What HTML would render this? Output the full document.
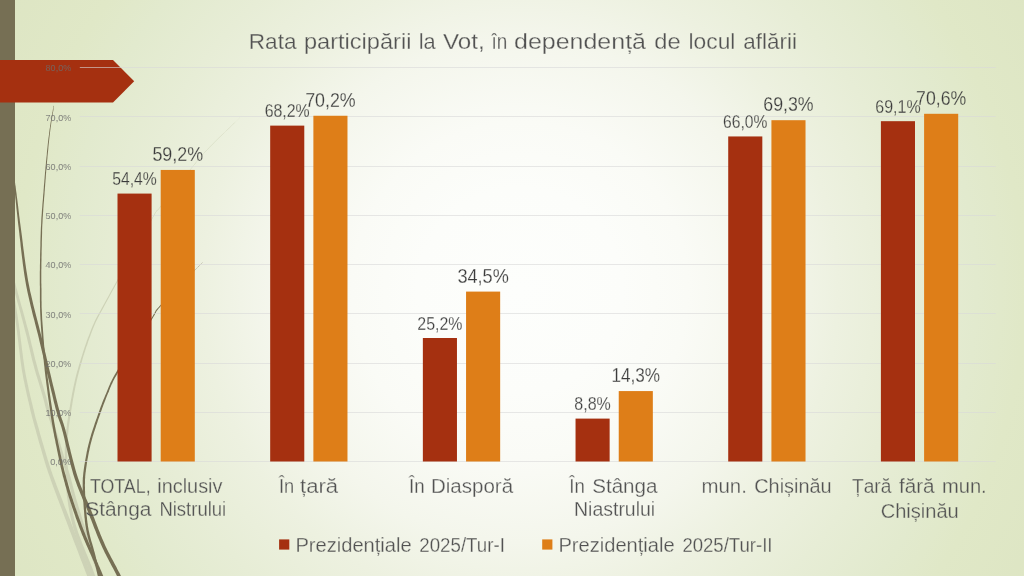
<!DOCTYPE html>
<html><head><meta charset="utf-8"><title>Rata participarii la Vot</title>
<style>
html,body{margin:0;padding:0;width:1024px;height:576px;overflow:hidden;background:#E3EACF;}
svg{display:block;position:absolute;left:0;top:0}
text{font-family:"Liberation Sans",sans-serif;}
</style></head><body>
<svg width="1024" height="576" viewBox="0 0 1024 576">
<defs>
<radialGradient id="bg" gradientUnits="userSpaceOnUse" cx="520" cy="290" r="600">
<stop offset="0" stop-color="#FDFEFC"/>
<stop offset="0.17" stop-color="#FCFDFA"/>
<stop offset="0.28" stop-color="#FAFBF6"/>
<stop offset="0.42" stop-color="#F4F6EC"/>
<stop offset="0.53" stop-color="#EDF1E0"/>
<stop offset="0.65" stop-color="#E7EDD6"/>
<stop offset="0.76" stop-color="#E2EACE"/>
<stop offset="0.84" stop-color="#E0E8C7"/>
<stop offset="1" stop-color="#DDE5C3"/>
</radialGradient>
</defs>
<rect width="1024" height="576" fill="url(#bg)"/>

<g>
<path d="M10.2,285.2 L10.5,286.9 L10.7,288.6 L11.0,290.4 L11.3,292.2 L11.5,293.9 L11.8,295.7 L12.1,297.5 L12.3,299.3 L12.6,301.0 L12.9,302.7 L13.1,304.4 L13.4,306.1 L13.6,307.7 L13.8,309.3 L14.1,310.8 L14.3,312.2 L14.5,313.5 L14.6,314.7 L14.8,315.8 L14.9,316.8 L15.1,317.7 L15.2,318.6 L15.3,319.4 L15.5,320.3 L15.6,321.2 L15.7,322.1 L15.9,323.1 L16.0,324.2 L16.2,325.5 L16.4,326.9 L16.6,328.4 L16.8,330.2 L17.1,332.1 L17.3,334.3 L17.6,336.6 L17.9,339.0 L18.2,341.6 L18.5,344.2 L18.8,347.0 L19.2,349.8 L19.5,352.6 L19.9,355.5 L20.2,358.3 L20.6,361.2 L21.0,364.0 L21.4,366.7 L21.8,369.4 L22.2,372.0 L22.7,374.5 L23.1,377.1 L23.6,379.7 L24.2,382.3 L24.7,384.9 L25.3,387.5 L25.8,390.1 L26.4,392.7 L26.9,395.2 L27.5,397.6 L28.0,400.0 L28.6,402.3 L29.1,404.5 L29.6,406.6 L30.0,408.5 L30.4,410.4 L30.8,412.1 L31.2,413.6 L31.6,415.0 L31.9,416.4 L32.2,417.6 L32.5,418.7 L32.8,419.8 L33.1,420.8 L33.3,421.7 L33.6,422.7 L33.8,423.6 L34.1,424.5 L34.4,425.4 L34.6,426.4 L34.9,427.4 L35.2,428.4 L35.5,429.5 L35.8,430.5 L36.0,431.5 L36.3,432.4 L36.5,433.4 L36.8,434.3 L37.0,435.2 L37.3,436.1 L37.6,437.1 L37.8,438.1 L38.1,439.1 L38.4,440.3 L38.8,441.4 L39.1,442.7 L39.5,444.0 L40.0,445.5 L40.4,447.0 L40.9,448.5 L41.3,450.1 L41.8,451.8 L42.3,453.4 L42.8,455.2 L43.3,457.0 L43.8,458.8 L44.4,460.7 L45.0,462.7 L45.6,464.8 L46.3,467.0 L47.1,469.2 L47.8,471.6 L48.7,474.0 L49.6,476.6 L50.5,479.3 L51.5,482.1 L52.6,485.1 L53.8,488.3 L55.0,491.5 L56.2,494.8 L57.5,498.2 L58.8,501.6 L60.1,505.1 L61.5,508.6 L62.8,512.0 L64.1,515.5 L65.4,518.9 L66.7,522.3 L67.9,525.5 L69.1,528.7 L70.3,531.9 L71.6,535.2 L72.8,538.5 L74.1,541.9 L75.4,545.2 L76.7,548.6 L78.0,552.0 L79.2,555.2 L80.4,558.4 L81.6,561.6 L82.8,564.5 L83.9,567.4 L84.9,570.0 L85.8,572.5 L86.7,574.7 L87.4,576.8 L88.1,578.5 L88.7,580.0 L89.1,581.2 L89.6,582.3 L89.9,583.2 L90.2,583.9 L90.4,584.5 L90.6,585.0 L90.8,585.4 L90.9,585.8 L91.1,586.2 L91.2,586.6 L91.4,587.0 L91.6,587.5 L91.8,588.1 L92.0,588.8 L96.0,587.2 L95.7,586.6 L95.5,586.0 L95.3,585.5 L95.1,585.1 L95.0,584.7 L94.8,584.3 L94.7,583.9 L94.5,583.5 L94.3,583.0 L94.1,582.4 L93.8,581.7 L93.5,580.8 L93.1,579.7 L92.6,578.5 L92.0,577.0 L91.4,575.2 L90.6,573.2 L89.7,571.0 L88.8,568.5 L87.7,565.9 L86.7,563.0 L85.5,560.1 L84.3,557.0 L83.1,553.8 L81.8,550.5 L80.5,547.1 L79.2,543.8 L77.9,540.4 L76.6,537.0 L75.3,533.7 L74.1,530.5 L72.9,527.3 L71.6,524.1 L70.4,520.8 L69.1,517.5 L67.7,514.1 L66.4,510.6 L65.0,507.2 L63.7,503.7 L62.4,500.3 L61.0,496.8 L59.7,493.5 L58.5,490.2 L57.2,487.0 L56.1,483.9 L55.0,480.9 L53.9,478.1 L52.9,475.4 L52.1,472.9 L51.2,470.5 L50.4,468.1 L49.7,465.9 L49.0,463.8 L48.4,461.7 L47.7,459.7 L47.2,457.8 L46.6,456.0 L46.1,454.2 L45.6,452.5 L45.1,450.8 L44.6,449.2 L44.1,447.6 L43.7,446.0 L43.2,444.5 L42.8,443.1 L42.4,441.7 L42.0,440.5 L41.7,439.3 L41.4,438.2 L41.1,437.2 L40.8,436.2 L40.5,435.2 L40.2,434.3 L40.0,433.4 L39.7,432.5 L39.5,431.6 L39.2,430.6 L39.0,429.6 L38.7,428.6 L38.4,427.6 L38.1,426.5 L37.8,425.5 L37.5,424.5 L37.3,423.6 L37.0,422.7 L36.7,421.8 L36.5,420.8 L36.2,419.9 L35.9,418.9 L35.6,417.9 L35.3,416.7 L35.0,415.6 L34.7,414.3 L34.3,412.8 L34.0,411.3 L33.6,409.6 L33.1,407.8 L32.7,405.8 L32.2,403.8 L31.6,401.6 L31.1,399.3 L30.5,396.9 L30.0,394.5 L29.4,392.0 L28.8,389.5 L28.3,386.9 L27.7,384.3 L27.2,381.7 L26.6,379.1 L26.1,376.5 L25.6,374.0 L25.2,371.4 L24.7,368.9 L24.3,366.3 L23.9,363.5 L23.5,360.8 L23.1,357.9 L22.8,355.1 L22.4,352.2 L22.0,349.4 L21.7,346.6 L21.4,343.9 L21.0,341.2 L20.7,338.7 L20.4,336.2 L20.1,333.9 L19.9,331.8 L19.6,329.8 L19.3,328.1 L19.1,326.5 L18.9,325.1 L18.8,323.9 L18.6,322.7 L18.4,321.7 L18.3,320.8 L18.2,319.9 L18.0,319.0 L17.9,318.2 L17.8,317.3 L17.6,316.4 L17.5,315.4 L17.3,314.3 L17.1,313.1 L16.9,311.8 L16.7,310.4 L16.5,308.9 L16.2,307.3 L16.0,305.7 L15.7,304.0 L15.5,302.3 L15.2,300.6 L15.0,298.9 L14.7,297.1 L14.4,295.3 L14.1,293.5 L13.9,291.8 L13.6,290.0 L13.3,288.2 L13.0,286.5 L12.8,284.8Z" fill="#CDD2B6"/>
<path d="M9.6,272.3 L9.9,273.4 L10.2,274.4 L10.4,275.4 L10.6,276.3 L10.9,277.2 L11.1,278.1 L11.3,279.0 L11.6,280.0 L11.8,280.9 L12.1,282.0 L12.3,283.1 L12.7,284.3 L13.0,285.6 L13.4,287.1 L13.8,288.6 L14.2,290.4 L14.8,292.3 L15.3,294.4 L15.9,296.6 L16.6,299.0 L17.2,301.4 L18.0,304.0 L18.7,306.6 L19.4,309.3 L20.2,312.1 L20.9,314.8 L21.6,317.5 L22.4,320.2 L23.1,322.9 L23.8,325.5 L24.4,328.0 L25.0,330.4 L25.6,332.7 L26.2,335.0 L26.8,337.3 L27.3,339.5 L27.8,341.7 L28.4,343.9 L28.9,346.1 L29.4,348.3 L29.9,350.5 L30.4,352.6 L30.9,354.7 L31.4,356.8 L31.9,358.9 L32.4,361.0 L33.0,363.1 L33.5,365.1 L34.1,367.2 L34.6,369.2 L35.2,371.3 L35.8,373.4 L36.4,375.5 L37.1,377.5 L37.7,379.5 L38.3,381.5 L38.9,383.5 L39.5,385.4 L40.0,387.3 L40.6,389.1 L41.1,390.8 L41.6,392.4 L42.0,394.0 L42.5,395.4 L42.8,396.8 L43.2,398.0 L43.5,399.1 L43.7,400.1 L44.0,401.0 L44.2,401.8 L44.4,402.6 L44.6,403.4 L44.8,404.2 L44.9,404.9 L45.1,405.7 L45.4,406.5 L45.6,407.4 L45.8,408.3 L46.1,409.3 L46.5,410.5 L46.8,411.6 L47.2,412.9 L47.6,414.2 L48.0,415.5 L48.4,416.8 L48.9,418.2 L49.3,419.6 L49.8,421.0 L50.3,422.4 L50.7,423.9 L51.2,425.3 L51.7,426.8 L52.1,428.2 L52.6,429.6 L53.0,431.1 L53.5,432.5 L53.9,433.9 L54.3,435.3 L54.8,436.7 L55.2,438.2 L55.7,439.6 L56.1,441.1 L56.6,442.6 L57.0,444.0 L57.4,445.5 L57.9,446.9 L58.3,448.4 L58.8,449.8 L59.2,451.3 L59.6,452.7 L60.0,454.1 L60.5,455.5 L60.9,456.8 L61.3,458.2 L61.7,459.5 L62.1,460.8 L62.5,462.0 L62.9,463.3 L63.3,464.5 L63.7,465.8 L64.1,467.1 L64.5,468.3 L64.9,469.6 L65.3,470.9 L65.7,472.2 L66.1,473.6 L66.5,475.0 L67.0,476.4 L67.4,477.9 L67.8,479.3 L68.1,480.7 L68.5,482.2 L68.9,483.6 L69.3,485.0 L69.6,486.5 L70.0,488.0 L70.4,489.6 L70.8,491.2 L71.3,492.9 L71.7,494.6 L72.2,496.4 L72.8,498.3 L73.3,500.3 L74.0,502.5 L74.6,504.7 L75.4,507.1 L76.1,509.6 L76.9,512.3 L77.8,515.1 L78.7,517.9 L79.6,520.8 L80.5,523.7 L81.4,526.6 L82.3,529.5 L83.2,532.4 L84.1,535.2 L85.0,537.9 L85.9,540.6 L86.7,543.1 L87.5,545.5 L88.2,547.8 L89.0,550.0 L89.7,552.1 L90.4,554.1 L91.1,556.1 L91.8,558.0 L92.5,559.9 L93.2,561.8 L93.8,563.6 L94.5,565.5 L95.1,567.3 L95.8,569.1 L96.5,570.9 L97.1,572.7 L97.8,574.6 L98.5,576.5 L101.5,575.5 L100.8,573.5 L100.1,571.7 L99.5,569.8 L98.8,568.0 L98.1,566.2 L97.5,564.4 L96.8,562.5 L96.2,560.7 L95.5,558.9 L94.8,557.0 L94.1,555.0 L93.4,553.1 L92.7,551.0 L92.0,548.9 L91.3,546.8 L90.5,544.5 L89.7,542.1 L88.9,539.6 L88.1,536.9 L87.2,534.2 L86.3,531.4 L85.4,528.5 L84.4,525.6 L83.5,522.7 L82.6,519.8 L81.7,516.9 L80.9,514.1 L80.0,511.4 L79.2,508.7 L78.4,506.2 L77.7,503.8 L77.0,501.5 L76.4,499.5 L75.8,497.5 L75.3,495.6 L74.8,493.8 L74.4,492.0 L73.9,490.4 L73.5,488.8 L73.1,487.2 L72.7,485.7 L72.4,484.2 L72.0,482.8 L71.6,481.3 L71.2,479.9 L70.9,478.5 L70.5,477.0 L70.0,475.6 L69.6,474.1 L69.2,472.7 L68.8,471.3 L68.4,470.0 L68.0,468.7 L67.6,467.4 L67.2,466.1 L66.8,464.8 L66.4,463.6 L66.0,462.3 L65.6,461.1 L65.2,459.8 L64.8,458.5 L64.4,457.2 L63.9,455.9 L63.5,454.5 L63.1,453.1 L62.7,451.7 L62.2,450.3 L61.8,448.9 L61.4,447.5 L60.9,446.0 L60.5,444.6 L60.1,443.1 L59.6,441.6 L59.2,440.2 L58.7,438.7 L58.3,437.3 L57.8,435.8 L57.4,434.4 L57.0,432.9 L56.5,431.5 L56.1,430.1 L55.6,428.7 L55.2,427.2 L54.7,425.8 L54.2,424.3 L53.8,422.9 L53.3,421.4 L52.8,420.0 L52.4,418.6 L51.9,417.2 L51.5,415.8 L51.1,414.5 L50.7,413.2 L50.3,411.9 L49.9,410.7 L49.5,409.5 L49.2,408.5 L48.9,407.5 L48.7,406.6 L48.5,405.7 L48.2,404.9 L48.1,404.1 L47.9,403.4 L47.7,402.6 L47.5,401.9 L47.3,401.0 L47.1,400.2 L46.8,399.3 L46.6,398.2 L46.3,397.1 L45.9,395.9 L45.5,394.6 L45.1,393.1 L44.6,391.5 L44.1,389.9 L43.6,388.1 L43.1,386.3 L42.5,384.5 L41.9,382.6 L41.3,380.6 L40.7,378.6 L40.1,376.6 L39.4,374.6 L38.8,372.5 L38.2,370.4 L37.6,368.4 L37.1,366.3 L36.5,364.3 L36.0,362.3 L35.4,360.2 L34.9,358.2 L34.4,356.1 L33.9,354.0 L33.4,351.9 L32.9,349.8 L32.4,347.6 L31.8,345.4 L31.3,343.2 L30.8,341.0 L30.3,338.8 L29.7,336.5 L29.1,334.3 L28.6,332.0 L28.0,329.6 L27.3,327.2 L26.6,324.7 L25.9,322.1 L25.2,319.5 L24.5,316.8 L23.7,314.0 L23.0,311.3 L22.2,308.6 L21.4,305.9 L20.7,303.2 L20.0,300.7 L19.3,298.2 L18.7,295.8 L18.0,293.6 L17.5,291.5 L17.0,289.6 L16.5,287.9 L16.1,286.3 L15.7,284.9 L15.4,283.6 L15.0,282.4 L14.8,281.3 L14.5,280.3 L14.3,279.3 L14.0,278.4 L13.8,277.4 L13.6,276.6 L13.4,275.6 L13.1,274.7 L12.9,273.8 L12.6,272.7 L12.4,271.7Z" fill="#CDD2B6"/>
<path d="M239.9,117.4 L237.9,119.4 L235.8,121.5 L233.6,123.5 L231.5,125.6 L229.3,127.7 L227.1,129.8 L224.9,132.0 L222.7,134.0 L220.6,136.1 L218.5,138.1 L216.5,140.1 L214.5,142.1 L212.6,144.0 L210.8,145.8 L209.1,147.5 L207.5,149.2 L206.0,150.7 L204.7,152.1 L203.5,153.4 L202.4,154.6 L201.5,155.7 L200.5,156.8 L199.6,157.8 L198.8,158.8 L197.9,159.9 L197.1,160.9 L196.2,162.0 L195.2,163.2 L194.2,164.5 L193.0,165.9 L191.8,167.5 L190.4,169.2 L188.8,171.1 L187.1,173.2 L185.2,175.5 L183.2,178.0 L181.1,180.5 L179.0,183.2 L176.8,185.9 L174.7,188.6 L172.5,191.2 L170.4,193.9 L168.3,196.4 L166.4,198.9 L164.6,201.2 L162.9,203.3 L161.3,205.3 L160.0,207.0 L159.0,208.3 L158.2,209.2 L157.6,209.8 L157.2,210.2 L157.0,210.3 L157.0,210.3 L157.0,210.3 L156.8,210.3 L156.6,210.5 L156.4,210.7 L156.1,211.2 L155.7,211.9 L155.0,213.0 L154.1,214.6 L153.0,216.6 L151.5,219.2 L149.6,222.4 L147.4,226.3 L144.9,230.8 L142.1,235.7 L139.1,241.0 L136.0,246.5 L132.7,252.3 L129.4,258.3 L126.1,264.2 L122.8,270.1 L119.6,275.9 L116.5,281.5 L113.6,286.7 L110.9,291.6 L108.5,295.9 L106.4,299.7 L104.6,303.0 L103.0,305.9 L101.6,308.5 L100.4,310.7 L99.3,312.7 L98.3,314.5 L97.4,316.1 L96.6,317.6 L95.8,319.1 L95.1,320.5 L94.4,321.9 L93.8,323.4 L93.1,325.1 L92.3,326.8 L91.5,328.8 L90.6,331.0 L89.7,333.4 L88.7,335.9 L87.7,338.5 L86.8,341.1 L85.8,343.9 L84.9,346.6 L83.9,349.5 L83.0,352.3 L82.1,355.2 L81.2,358.0 L80.3,360.9 L79.4,363.8 L78.6,366.6 L77.8,369.4 L77.0,372.1 L76.3,374.8 L75.6,377.4 L75.0,380.1 L74.4,382.8 L73.8,385.5 L73.2,388.1 L72.7,390.8 L72.1,393.5 L71.7,396.1 L71.2,398.7 L70.7,401.3 L70.3,403.8 L69.9,406.2 L69.5,408.6 L69.1,411.0 L68.7,413.2 L68.4,415.4 L68.0,417.6 L67.7,419.6 L67.4,421.6 L67.1,423.5 L66.9,425.4 L66.7,427.2 L66.4,429.0 L66.2,430.8 L66.0,432.5 L65.9,434.1 L65.7,435.8 L65.6,437.4 L65.4,439.0 L65.3,440.6 L65.2,442.1 L65.1,443.7 L65.0,445.2 L64.9,446.6 L64.9,448.0 L64.8,449.4 L64.8,450.7 L64.8,451.9 L64.8,453.2 L64.8,454.4 L64.9,455.6 L64.9,456.9 L64.9,458.1 L65.0,459.4 L65.0,460.7 L65.1,462.1 L65.1,463.5 L65.2,465.0 L65.2,466.6 L65.2,468.2 L65.3,469.8 L65.3,471.4 L65.3,473.0 L65.3,474.7 L65.4,476.5 L65.4,478.2 L65.5,480.0 L65.6,481.8 L65.7,483.6 L65.8,485.5 L65.9,487.3 L66.1,489.3 L66.3,491.2 L66.6,493.2 L66.8,495.2 L67.1,497.2 L67.4,499.2 L67.7,501.3 L68.0,503.4 L68.3,505.6 L68.7,507.7 L69.1,509.9 L69.5,512.1 L69.9,514.4 L70.4,516.7 L70.9,519.0 L71.5,521.3 L72.1,523.7 L72.7,526.1 L73.4,528.5 L74.2,531.0 L75.1,533.7 L76.0,536.5 L77.0,539.3 L78.1,542.3 L79.2,545.2 L80.4,548.2 L81.5,551.2 L82.7,554.1 L83.8,556.9 L84.9,559.6 L85.9,562.2 L86.9,564.6 L87.8,566.9 L88.6,568.9 L89.2,570.7 L89.8,572.2 L90.3,573.5 L90.7,574.6 L91.0,575.6 L91.3,576.4 L91.6,577.0 L91.8,577.6 L91.9,578.1 L92.1,578.5 L92.2,578.9 L92.3,579.2 L92.5,579.6 L92.6,580.0 L92.8,580.5 L93.0,581.0 L93.2,581.6 L96.8,580.4 L96.6,579.7 L96.4,579.2 L96.2,578.8 L96.1,578.4 L96.0,578.0 L95.8,577.6 L95.7,577.2 L95.6,576.8 L95.4,576.3 L95.2,575.7 L94.9,575.1 L94.6,574.3 L94.3,573.3 L93.9,572.2 L93.4,570.9 L92.8,569.3 L92.1,567.5 L91.3,565.5 L90.3,563.2 L89.4,560.8 L88.3,558.2 L87.2,555.5 L86.0,552.7 L84.8,549.8 L83.7,546.9 L82.5,544.0 L81.4,541.0 L80.3,538.1 L79.2,535.3 L78.2,532.6 L77.4,530.0 L76.6,527.5 L75.9,525.2 L75.2,522.8 L74.6,520.5 L74.0,518.2 L73.5,516.0 L73.0,513.7 L72.6,511.5 L72.1,509.3 L71.7,507.2 L71.3,505.1 L71.0,502.9 L70.6,500.9 L70.3,498.8 L70.0,496.8 L69.7,494.8 L69.4,492.8 L69.2,490.9 L68.9,489.0 L68.8,487.1 L68.6,485.2 L68.4,483.4 L68.3,481.6 L68.2,479.8 L68.1,478.1 L68.0,476.4 L68.0,474.7 L67.9,473.0 L67.9,471.3 L67.8,469.7 L67.8,468.1 L67.7,466.5 L67.6,465.0 L67.6,463.5 L67.5,462.0 L67.5,460.6 L67.4,459.3 L67.3,458.0 L67.3,456.8 L67.3,455.6 L67.2,454.4 L67.2,453.1 L67.2,451.9 L67.2,450.7 L67.2,449.4 L67.2,448.1 L67.3,446.7 L67.3,445.3 L67.4,443.8 L67.5,442.3 L67.6,440.7 L67.7,439.2 L67.8,437.6 L68.0,436.0 L68.1,434.4 L68.3,432.7 L68.4,431.0 L68.6,429.3 L68.8,427.5 L69.0,425.7 L69.3,423.8 L69.5,421.9 L69.8,419.9 L70.1,417.9 L70.4,415.8 L70.8,413.6 L71.1,411.3 L71.5,409.0 L71.9,406.6 L72.3,404.1 L72.7,401.6 L73.1,399.0 L73.6,396.5 L74.1,393.8 L74.6,391.2 L75.1,388.5 L75.6,385.9 L76.2,383.2 L76.8,380.5 L77.4,377.9 L78.1,375.2 L78.8,372.6 L79.5,369.8 L80.3,367.0 L81.1,364.2 L81.9,361.4 L82.7,358.5 L83.6,355.6 L84.5,352.8 L85.4,349.9 L86.3,347.1 L87.3,344.4 L88.2,341.6 L89.1,339.0 L90.1,336.4 L91.0,333.9 L91.9,331.5 L92.8,329.3 L93.6,327.3 L94.3,325.6 L95.0,324.0 L95.6,322.5 L96.3,321.1 L97.0,319.7 L97.7,318.2 L98.5,316.7 L99.4,315.1 L100.3,313.3 L101.4,311.3 L102.7,309.0 L104.0,306.5 L105.6,303.6 L107.4,300.3 L109.4,296.4 L111.8,292.1 L114.5,287.2 L117.3,281.9 L120.4,276.4 L123.5,270.6 L126.8,264.6 L130.1,258.6 L133.4,252.7 L136.6,246.9 L139.7,241.3 L142.6,236.0 L145.4,231.0 L147.9,226.6 L150.1,222.7 L151.9,219.4 L153.4,216.8 L154.6,214.8 L155.4,213.3 L156.1,212.1 L156.5,211.4 L156.8,211.0 L156.9,210.7 L156.9,210.7 L156.9,210.7 L157.0,210.8 L157.3,210.7 L157.5,210.5 L157.9,210.2 L158.5,209.5 L159.3,208.6 L160.4,207.2 L161.7,205.5 L163.2,203.6 L164.9,201.5 L166.7,199.2 L168.7,196.7 L170.7,194.1 L172.8,191.5 L175.0,188.8 L177.1,186.1 L179.3,183.4 L181.4,180.8 L183.5,178.2 L185.5,175.8 L187.3,173.5 L189.1,171.3 L190.6,169.4 L192.0,167.7 L193.3,166.1 L194.4,164.7 L195.5,163.4 L196.4,162.2 L197.3,161.1 L198.2,160.1 L199.0,159.0 L199.9,158.0 L200.8,157.0 L201.7,155.9 L202.7,154.8 L203.7,153.6 L204.9,152.3 L206.2,150.9 L207.7,149.4 L209.3,147.7 L211.0,146.0 L212.8,144.2 L214.7,142.3 L216.7,140.3 L218.7,138.3 L220.8,136.3 L222.9,134.2 L225.1,132.1 L227.3,130.0 L229.5,127.9 L231.6,125.8 L233.8,123.7 L235.9,121.6 L238.0,119.6 L240.1,117.6Z" fill="#CDD2B6"/>
<path d="M203.0,262.0 L202.7,262.2 L202.5,262.4 L202.4,262.5 L202.3,262.6 L202.3,262.6 L202.3,262.6 L202.2,262.6 L202.2,262.6 L202.0,262.8 L201.8,263.0 L201.5,263.3 L201.0,263.8 L200.4,264.4 L199.6,265.2 L198.6,266.2 L197.4,267.4 L195.9,268.9 L194.1,270.7 L192.0,272.8 L189.7,275.2 L187.2,277.6 L184.6,280.3 L181.8,283.0 L179.1,285.8 L176.3,288.6 L173.6,291.4 L170.9,294.1 L168.3,296.8 L166.0,299.2 L163.8,301.5 L161.9,303.5 L160.3,305.3 L159.0,306.8 L157.9,307.9 L157.1,308.8 L156.5,309.6 L156.1,310.1 L155.7,310.6 L155.5,311.0 L155.3,311.4 L155.1,311.8 L154.8,312.3 L154.6,312.9 L154.2,313.6 L153.6,314.5 L152.9,315.7 L152.0,317.2 L150.8,319.1 L149.3,321.3 L147.6,323.9 L145.7,326.9 L143.5,330.0 L141.3,333.4 L138.9,337.0 L136.5,340.7 L134.1,344.4 L131.6,348.2 L129.2,351.9 L126.8,355.5 L124.5,359.1 L122.4,362.4 L120.4,365.5 L118.6,368.3 L117.1,370.8 L115.8,373.0 L114.6,375.0 L113.6,376.8 L112.7,378.5 L111.9,380.0 L111.2,381.4 L110.6,382.6 L110.1,383.8 L109.6,385.0 L109.1,386.1 L108.6,387.2 L108.2,388.3 L107.7,389.5 L107.2,390.7 L106.7,392.0 L106.1,393.4 L105.4,394.9 L104.8,396.4 L104.2,397.9 L103.5,399.5 L102.9,401.0 L102.3,402.6 L101.7,404.2 L101.1,405.8 L100.5,407.3 L99.9,408.9 L99.4,410.5 L98.8,412.1 L98.2,413.7 L97.7,415.3 L97.1,416.9 L96.6,418.4 L96.0,420.0 L95.5,421.5 L94.9,423.1 L94.4,424.7 L93.9,426.2 L93.4,427.8 L92.8,429.4 L92.3,430.9 L91.8,432.5 L91.3,434.1 L90.9,435.6 L90.4,437.2 L89.9,438.8 L89.5,440.4 L89.1,441.9 L88.7,443.5 L88.3,445.1 L87.9,446.7 L87.5,448.3 L87.2,450.0 L86.8,451.6 L86.5,453.3 L86.2,454.9 L85.9,456.5 L85.6,458.2 L85.3,459.8 L85.0,461.3 L84.8,462.9 L84.5,464.4 L84.3,465.8 L84.1,467.2 L83.9,468.6 L83.7,469.9 L83.6,471.1 L83.4,472.2 L83.3,473.3 L83.2,474.3 L83.1,475.4 L83.0,476.3 L82.9,477.3 L82.8,478.3 L82.8,479.3 L82.7,480.3 L82.7,481.3 L82.7,482.4 L82.7,483.5 L82.7,484.7 L82.7,486.0 L82.7,487.4 L82.7,488.8 L82.7,490.3 L82.8,491.8 L82.8,493.3 L82.9,494.9 L83.0,496.6 L83.1,498.2 L83.2,499.8 L83.3,501.5 L83.4,503.1 L83.5,504.7 L83.6,506.3 L83.7,507.8 L83.8,509.3 L84.0,510.8 L84.1,512.2 L84.2,513.6 L84.3,514.9 L84.4,516.2 L84.5,517.5 L84.7,518.8 L84.8,520.1 L84.9,521.4 L85.1,522.6 L85.2,523.9 L85.4,525.2 L85.6,526.5 L85.8,527.7 L86.0,529.1 L86.3,530.4 L86.5,531.7 L86.8,533.1 L87.1,534.5 L87.5,535.9 L87.8,537.3 L88.2,538.7 L88.6,540.2 L89.0,541.6 L89.4,543.0 L89.9,544.4 L90.3,545.9 L90.7,547.3 L91.1,548.7 L91.5,550.1 L91.9,551.5 L92.3,552.9 L92.6,554.3 L93.0,555.7 L93.3,557.1 L93.7,558.6 L94.1,560.1 L94.4,561.6 L94.8,563.1 L95.1,564.6 L95.5,566.1 L95.8,567.6 L96.2,569.0 L96.5,570.4 L96.8,571.7 L97.1,573.0 L97.3,574.1 L97.6,575.3 L97.8,576.3 L98.0,577.2 L98.2,578.0 L98.4,578.8 L98.6,579.4 L98.7,580.0 L98.8,580.6 L98.9,581.1 L99.0,581.6 L99.1,582.0 L99.2,582.4 L99.3,582.9 L99.4,583.3 L99.5,583.8 L99.6,584.2 L99.7,584.7 L99.8,585.3 L102.2,584.7 L102.1,584.2 L101.9,583.7 L101.8,583.2 L101.7,582.8 L101.7,582.4 L101.6,581.9 L101.5,581.5 L101.4,581.1 L101.3,580.6 L101.2,580.1 L101.0,579.5 L100.9,578.9 L100.7,578.2 L100.6,577.5 L100.4,576.6 L100.2,575.7 L99.9,574.7 L99.7,573.6 L99.4,572.4 L99.1,571.2 L98.8,569.8 L98.5,568.5 L98.2,567.0 L97.8,565.6 L97.5,564.1 L97.1,562.6 L96.8,561.1 L96.4,559.6 L96.0,558.1 L95.7,556.6 L95.3,555.1 L95.0,553.7 L94.6,552.3 L94.2,550.9 L93.8,549.5 L93.4,548.0 L93.0,546.6 L92.6,545.2 L92.2,543.8 L91.7,542.3 L91.3,540.9 L90.9,539.5 L90.5,538.1 L90.2,536.7 L89.8,535.3 L89.5,534.0 L89.2,532.6 L88.9,531.3 L88.6,529.9 L88.4,528.6 L88.2,527.4 L87.9,526.1 L87.8,524.8 L87.6,523.6 L87.4,522.3 L87.3,521.1 L87.1,519.9 L87.0,518.6 L86.9,517.3 L86.7,516.0 L86.6,514.7 L86.5,513.4 L86.4,512.0 L86.2,510.6 L86.1,509.2 L86.0,507.7 L85.9,506.1 L85.8,504.5 L85.7,502.9 L85.6,501.3 L85.5,499.7 L85.4,498.1 L85.3,496.4 L85.2,494.8 L85.1,493.3 L85.1,491.7 L85.0,490.2 L85.0,488.7 L85.0,487.3 L84.9,486.0 L84.9,484.7 L85.0,483.6 L85.0,482.4 L85.0,481.4 L85.0,480.4 L85.0,479.4 L85.1,478.4 L85.2,477.5 L85.2,476.5 L85.3,475.6 L85.4,474.6 L85.5,473.6 L85.6,472.5 L85.8,471.4 L85.9,470.2 L86.1,468.9 L86.3,467.6 L86.5,466.2 L86.7,464.7 L86.9,463.2 L87.2,461.7 L87.4,460.1 L87.7,458.5 L88.0,456.9 L88.3,455.3 L88.6,453.7 L88.9,452.0 L89.3,450.4 L89.6,448.8 L90.0,447.2 L90.3,445.6 L90.7,444.0 L91.1,442.5 L91.5,440.9 L92.0,439.3 L92.4,437.8 L92.8,436.2 L93.3,434.7 L93.8,433.1 L94.3,431.6 L94.8,430.0 L95.3,428.4 L95.8,426.9 L96.3,425.3 L96.9,423.8 L97.4,422.2 L97.9,420.6 L98.4,419.1 L99.0,417.5 L99.5,415.9 L100.1,414.4 L100.6,412.8 L101.2,411.2 L101.8,409.6 L102.3,408.0 L102.9,406.4 L103.5,404.8 L104.1,403.3 L104.7,401.7 L105.3,400.2 L105.9,398.6 L106.5,397.1 L107.1,395.6 L107.7,394.1 L108.3,392.7 L108.9,391.4 L109.3,390.1 L109.8,389.0 L110.2,387.8 L110.7,386.8 L111.1,385.7 L111.6,384.5 L112.2,383.4 L112.8,382.1 L113.4,380.7 L114.2,379.3 L115.1,377.6 L116.1,375.9 L117.2,373.9 L118.5,371.7 L120.0,369.2 L121.7,366.3 L123.7,363.2 L125.8,359.9 L128.0,356.3 L130.3,352.7 L132.8,348.9 L135.2,345.1 L137.6,341.4 L140.0,337.7 L142.3,334.1 L144.6,330.7 L146.6,327.5 L148.5,324.6 L150.3,322.0 L151.7,319.7 L152.9,317.8 L153.8,316.3 L154.6,315.1 L155.1,314.1 L155.5,313.3 L155.8,312.7 L156.0,312.2 L156.2,311.9 L156.3,311.5 L156.5,311.2 L156.8,310.7 L157.3,310.2 L157.9,309.5 L158.6,308.5 L159.6,307.4 L160.9,305.9 L162.5,304.1 L164.4,302.1 L166.6,299.8 L168.9,297.3 L171.4,294.6 L174.0,291.9 L176.8,289.1 L179.5,286.2 L182.2,283.4 L184.9,280.6 L187.5,278.0 L190.0,275.5 L192.3,273.1 L194.3,271.0 L196.1,269.1 L197.6,267.6 L198.8,266.4 L199.8,265.3 L200.6,264.5 L201.2,263.9 L201.6,263.4 L201.9,263.1 L202.1,262.9 L202.3,262.8 L202.3,262.7 L202.4,262.7 L202.4,262.7 L202.4,262.7 L202.5,262.6 L202.6,262.5 L202.8,262.3 L203.0,262.0Z" fill="#766F54"/>
<path d="M53.5,106.0 L53.5,106.1 L53.5,106.2 L53.9,106.2 L53.9,106.1 L53.9,106.1 L53.9,106.0 L53.9,106.0 L53.9,106.0 L53.5,105.9 L53.5,105.9 L53.5,106.0 L53.5,106.3 L53.4,106.6 L53.4,107.0 L53.3,107.6 L53.2,108.3 L53.0,109.1 L52.8,110.1 L52.7,111.2 L52.4,112.3 L52.2,113.6 L52.0,115.0 L51.7,116.4 L51.5,117.9 L51.2,119.5 L50.9,121.1 L50.6,122.7 L50.4,124.3 L50.1,126.0 L49.9,127.7 L49.6,129.3 L49.4,130.9 L49.2,132.6 L49.0,134.3 L48.8,136.0 L48.5,137.7 L48.3,139.5 L48.1,141.3 L47.9,143.1 L47.7,145.0 L47.5,146.9 L47.3,148.7 L47.1,150.6 L46.9,152.5 L46.8,154.4 L46.6,156.2 L46.4,158.1 L46.2,160.0 L46.0,161.8 L45.9,163.6 L45.7,165.4 L45.5,167.3 L45.4,169.1 L45.2,170.9 L45.0,172.7 L44.9,174.6 L44.7,176.4 L44.6,178.3 L44.4,180.2 L44.3,182.1 L44.1,184.0 L43.9,186.0 L43.8,187.9 L43.6,190.0 L43.5,192.0 L43.3,194.0 L43.1,196.1 L43.0,198.1 L42.8,200.2 L42.6,202.3 L42.4,204.4 L42.3,206.5 L42.1,208.7 L41.9,210.9 L41.8,213.1 L41.6,215.4 L41.4,217.7 L41.3,220.1 L41.2,222.5 L41.1,225.0 L40.9,227.6 L40.8,230.3 L40.7,233.2 L40.6,236.1 L40.5,239.1 L40.4,242.2 L40.4,245.3 L40.3,248.4 L40.2,251.5 L40.1,254.5 L40.1,257.4 L40.0,260.3 L40.0,263.0 L39.9,265.5 L39.9,267.8 L39.9,270.0 L39.8,271.9 L39.8,273.6 L39.8,275.2 L39.8,276.6 L39.8,277.9 L39.8,279.0 L39.8,280.1 L39.8,281.1 L39.8,282.1 L39.8,283.1 L39.8,284.1 L39.8,285.1 L39.9,286.2 L39.9,287.3 L39.9,288.6 L39.9,290.0 L39.9,291.5 L39.9,292.9 L39.9,294.3 L39.9,295.8 L39.9,297.3 L39.9,298.7 L39.9,300.3 L39.9,301.8 L40.0,303.5 L40.0,305.1 L40.0,306.9 L40.1,308.7 L40.1,310.6 L40.2,312.7 L40.3,314.8 L40.4,317.0 L40.5,319.4 L40.7,321.9 L40.8,324.5 L41.0,327.2 L41.2,330.0 L41.4,332.9 L41.6,335.8 L41.8,338.8 L42.0,341.9 L42.3,345.0 L42.5,348.1 L42.8,351.2 L43.1,354.4 L43.4,357.6 L43.7,360.7 L44.0,363.9 L44.4,367.1 L44.7,370.4 L45.1,373.7 L45.5,377.2 L46.0,380.7 L46.4,384.3 L46.9,387.8 L47.4,391.4 L47.8,394.9 L48.3,398.4 L48.8,401.8 L49.2,405.1 L49.7,408.3 L50.2,411.4 L50.6,414.4 L51.0,417.2 L51.4,419.8 L51.8,422.3 L52.2,424.7 L52.6,427.1 L53.0,429.3 L53.4,431.4 L53.8,433.5 L54.1,435.4 L54.5,437.4 L54.9,439.3 L55.3,441.1 L55.6,443.0 L56.0,444.8 L56.4,446.6 L56.8,448.4 L57.1,450.3 L57.5,452.1 L57.9,453.9 L58.2,455.6 L58.6,457.3 L58.9,458.9 L59.2,460.5 L59.6,462.1 L59.9,463.7 L60.3,465.3 L60.6,466.9 L61.0,468.4 L61.4,470.0 L61.7,471.6 L62.1,473.1 L62.5,474.7 L62.9,476.4 L63.4,478.0 L63.8,479.6 L64.2,481.2 L64.7,482.8 L65.1,484.4 L65.5,486.0 L66.0,487.6 L66.5,489.2 L66.9,490.8 L67.4,492.4 L67.9,494.1 L68.4,495.7 L68.9,497.4 L69.5,499.0 L70.0,500.7 L70.6,502.5 L71.2,504.2 L71.7,506.0 L72.4,507.9 L73.0,509.7 L73.6,511.6 L74.3,513.5 L75.0,515.4 L75.6,517.4 L76.3,519.3 L77.0,521.2 L77.7,523.1 L78.4,524.9 L79.0,526.8 L79.7,528.6 L80.4,530.3 L81.1,532.1 L81.7,533.8 L82.4,535.4 L83.1,537.1 L83.7,538.7 L84.4,540.3 L85.1,541.9 L85.8,543.4 L86.4,545.0 L87.1,546.5 L87.8,548.0 L88.4,549.5 L89.1,550.9 L89.7,552.4 L90.4,553.8 L91.0,555.2 L91.6,556.6 L92.2,558.0 L92.8,559.4 L93.4,560.8 L94.0,562.1 L94.5,563.5 L95.1,564.8 L95.7,566.2 L96.3,567.5 L96.8,568.7 L97.3,570.0 L97.9,571.2 L98.4,572.3 L98.8,573.5 L99.3,574.6 L99.8,575.6 L100.2,576.6 L100.6,577.5 L100.9,578.4 L101.3,579.2 L101.6,580.0 L101.8,580.7 L102.1,581.4 L102.4,582.0 L102.6,582.6 L102.9,583.2 L103.1,583.8 L103.3,584.4 L103.6,585.0 L103.8,585.6 L104.0,586.3 L104.3,586.9 L104.6,587.6 L107.4,586.4 L107.2,585.8 L106.9,585.1 L106.7,584.5 L106.4,583.9 L106.2,583.3 L106.0,582.7 L105.7,582.1 L105.5,581.5 L105.3,580.9 L105.0,580.2 L104.7,579.5 L104.4,578.8 L104.1,578.0 L103.8,577.2 L103.4,576.3 L103.0,575.4 L102.6,574.4 L102.2,573.4 L101.7,572.3 L101.2,571.1 L100.7,570.0 L100.2,568.7 L99.7,567.5 L99.1,566.2 L98.5,564.9 L98.0,563.6 L97.4,562.3 L96.8,560.9 L96.2,559.5 L95.6,558.2 L95.0,556.8 L94.4,555.4 L93.8,554.0 L93.2,552.6 L92.6,551.1 L91.9,549.7 L91.3,548.2 L90.6,546.7 L90.0,545.2 L89.3,543.7 L88.6,542.2 L87.9,540.6 L87.3,539.1 L86.6,537.5 L85.9,535.9 L85.3,534.2 L84.6,532.6 L83.9,530.9 L83.3,529.2 L82.6,527.5 L81.9,525.7 L81.3,523.9 L80.6,522.0 L79.9,520.1 L79.2,518.2 L78.5,516.3 L77.8,514.4 L77.2,512.5 L76.5,510.6 L75.9,508.8 L75.2,506.9 L74.6,505.1 L74.0,503.3 L73.4,501.5 L72.9,499.8 L72.3,498.1 L71.8,496.5 L71.2,494.8 L70.7,493.2 L70.2,491.6 L69.7,490.0 L69.3,488.4 L68.8,486.8 L68.3,485.2 L67.9,483.6 L67.4,482.0 L67.0,480.4 L66.5,478.9 L66.1,477.3 L65.7,475.6 L65.2,474.0 L64.8,472.5 L64.4,470.9 L64.0,469.3 L63.7,467.8 L63.3,466.2 L62.9,464.7 L62.6,463.1 L62.2,461.6 L61.9,460.0 L61.5,458.4 L61.2,456.7 L60.8,455.0 L60.4,453.3 L60.1,451.6 L59.7,449.7 L59.3,447.9 L58.9,446.1 L58.5,444.3 L58.1,442.5 L57.8,440.6 L57.4,438.8 L57.0,436.9 L56.6,435.0 L56.2,433.0 L55.8,430.9 L55.4,428.8 L55.0,426.6 L54.6,424.3 L54.2,421.9 L53.8,419.4 L53.4,416.8 L52.9,414.0 L52.5,411.1 L52.0,408.0 L51.5,404.8 L51.0,401.5 L50.5,398.1 L50.0,394.6 L49.5,391.1 L49.0,387.5 L48.6,384.0 L48.1,380.5 L47.6,376.9 L47.2,373.5 L46.8,370.1 L46.4,366.8 L46.0,363.6 L45.6,360.5 L45.3,357.4 L45.0,354.2 L44.7,351.1 L44.4,347.9 L44.1,344.8 L43.9,341.7 L43.6,338.7 L43.4,335.7 L43.2,332.7 L43.0,329.9 L42.8,327.1 L42.6,324.4 L42.4,321.8 L42.2,319.3 L42.1,317.0 L42.0,314.7 L41.9,312.6 L41.8,310.6 L41.7,308.7 L41.6,306.8 L41.6,305.1 L41.6,303.4 L41.6,301.8 L41.5,300.3 L41.5,298.7 L41.5,297.3 L41.5,295.8 L41.5,294.3 L41.5,292.9 L41.5,291.5 L41.5,290.0 L41.5,288.6 L41.4,287.3 L41.4,286.2 L41.4,285.1 L41.4,284.1 L41.3,283.1 L41.3,282.1 L41.3,281.1 L41.3,280.1 L41.3,279.0 L41.3,277.9 L41.3,276.6 L41.3,275.2 L41.3,273.7 L41.3,271.9 L41.3,270.0 L41.4,267.9 L41.4,265.5 L41.4,263.0 L41.5,260.3 L41.5,257.5 L41.6,254.5 L41.6,251.5 L41.7,248.5 L41.8,245.4 L41.8,242.3 L41.9,239.2 L42.0,236.2 L42.1,233.2 L42.1,230.3 L42.2,227.6 L42.3,225.0 L42.5,222.6 L42.6,220.1 L42.7,217.8 L42.9,215.5 L43.0,213.2 L43.2,211.0 L43.3,208.8 L43.5,206.6 L43.6,204.5 L43.8,202.4 L44.0,200.3 L44.1,198.2 L44.3,196.2 L44.5,194.1 L44.6,192.1 L44.8,190.0 L44.9,188.0 L45.1,186.0 L45.2,184.1 L45.4,182.2 L45.5,180.3 L45.7,178.4 L45.8,176.5 L45.9,174.7 L46.1,172.8 L46.2,171.0 L46.4,169.2 L46.6,167.4 L46.7,165.5 L46.9,163.7 L47.0,161.9 L47.2,160.0 L47.4,158.2 L47.5,156.3 L47.7,154.5 L47.9,152.6 L48.1,150.7 L48.3,148.8 L48.4,147.0 L48.6,145.1 L48.8,143.2 L49.0,141.4 L49.2,139.6 L49.4,137.8 L49.6,136.1 L49.8,134.4 L50.0,132.7 L50.2,131.1 L50.4,129.4 L50.6,127.8 L50.9,126.1 L51.1,124.5 L51.3,122.8 L51.6,121.2 L51.8,119.6 L52.1,118.0 L52.3,116.5 L52.6,115.1 L52.8,113.7 L53.0,112.4 L53.2,111.2 L53.4,110.2 L53.5,109.2 L53.6,108.3 L53.7,107.6 L53.8,107.1 L53.9,106.6 L53.9,106.3 L54.0,106.1 L54.0,106.0 L54.0,105.9 L53.6,105.8 L53.5,105.9 L53.5,105.9 L53.5,106.0 L53.5,106.1 L53.5,106.1 L53.9,106.1 L53.9,106.1 L53.9,106.0Z" fill="#766F54"/>
<path d="M12.0,168.1 L12.2,169.4 L12.3,170.7 L12.5,171.9 L12.6,173.2 L12.7,174.3 L12.9,175.5 L13.0,176.7 L13.2,178.0 L13.3,179.2 L13.5,180.5 L13.6,181.9 L13.8,183.3 L14.0,184.8 L14.2,186.5 L14.3,188.2 L14.6,190.1 L14.8,192.1 L15.0,194.1 L15.2,196.3 L15.4,198.5 L15.7,200.8 L15.9,203.1 L16.2,205.5 L16.4,208.0 L16.7,210.6 L17.0,213.2 L17.3,215.9 L17.6,218.6 L17.9,221.4 L18.2,224.3 L18.6,227.2 L18.9,230.1 L19.3,233.2 L19.6,236.3 L20.0,239.5 L20.4,242.8 L20.7,246.2 L21.1,249.6 L21.5,253.1 L21.9,256.6 L22.4,260.2 L22.8,263.7 L23.3,267.3 L23.8,271.0 L24.3,274.6 L24.9,278.2 L25.5,281.7 L26.1,285.3 L26.8,288.8 L27.5,292.3 L28.3,295.8 L29.1,299.2 L29.9,302.7 L30.7,306.2 L31.6,309.7 L32.4,313.2 L33.3,316.7 L34.3,320.3 L35.2,323.9 L36.1,327.5 L37.0,331.1 L38.0,334.8 L38.9,338.6 L39.8,342.4 L40.7,346.3 L41.7,350.4 L42.7,354.7 L43.8,359.1 L44.8,363.6 L45.9,368.2 L46.9,372.7 L48.0,377.3 L49.1,381.7 L50.1,386.1 L51.1,390.3 L52.1,394.3 L53.0,398.1 L53.8,401.7 L54.7,404.9 L55.4,407.9 L56.1,410.4 L56.7,412.6 L57.2,414.5 L57.6,416.0 L58.1,417.4 L58.4,418.6 L58.8,419.6 L59.1,420.5 L59.5,421.4 L59.8,422.3 L60.1,423.2 L60.5,424.2 L60.9,425.4 L61.3,426.8 L61.8,428.5 L62.3,430.4 L62.9,432.6 L63.5,435.1 L64.2,437.7 L64.8,440.5 L65.5,443.4 L66.2,446.4 L67.0,449.5 L67.7,452.6 L68.5,455.8 L69.3,458.9 L70.0,462.1 L70.8,465.2 L71.6,468.2 L72.4,471.1 L73.2,473.9 L74.0,476.5 L74.8,479.0 L75.7,481.4 L76.5,483.8 L77.3,486.1 L78.2,488.3 L79.1,490.5 L79.9,492.6 L80.8,494.7 L81.7,496.8 L82.5,498.9 L83.4,500.9 L84.3,503.0 L85.2,505.0 L86.0,507.1 L86.9,509.2 L87.8,511.4 L88.6,513.5 L89.5,515.7 L90.3,517.9 L91.2,520.1 L92.0,522.3 L92.9,524.5 L93.7,526.7 L94.6,528.9 L95.5,531.1 L96.3,533.3 L97.2,535.5 L98.1,537.7 L99.0,539.8 L99.9,541.9 L100.8,544.0 L101.7,546.1 L102.7,548.2 L103.7,550.3 L104.7,552.4 L105.8,554.6 L106.9,556.7 L108.0,558.8 L109.1,560.9 L110.2,562.9 L111.2,564.9 L112.3,566.9 L113.3,568.8 L114.2,570.6 L115.1,572.3 L116.0,573.9 L116.7,575.4 L117.4,576.8 L118.0,578.0 L118.5,579.1 L119.0,580.1 L119.4,581.0 L119.7,581.8 L120.0,582.5 L120.3,583.2 L120.5,583.8 L120.7,584.4 L121.0,584.9 L121.2,585.5 L121.4,586.0 L121.6,586.6 L121.8,587.3 L122.1,587.9 L122.4,588.7 L125.6,587.3 L125.3,586.6 L125.1,586.0 L124.9,585.4 L124.6,584.8 L124.4,584.3 L124.2,583.7 L124.0,583.1 L123.8,582.5 L123.6,581.9 L123.3,581.2 L123.0,580.4 L122.6,579.6 L122.2,578.7 L121.7,577.7 L121.2,576.5 L120.6,575.2 L119.9,573.8 L119.1,572.3 L118.2,570.7 L117.3,568.9 L116.4,567.1 L115.4,565.2 L114.3,563.3 L113.3,561.3 L112.2,559.3 L111.1,557.2 L110.0,555.1 L108.9,553.0 L107.9,550.9 L106.8,548.8 L105.8,546.7 L104.9,544.7 L104.0,542.6 L103.1,540.6 L102.2,538.5 L101.3,536.3 L100.4,534.2 L99.6,532.0 L98.7,529.9 L97.9,527.7 L97.0,525.5 L96.2,523.3 L95.3,521.1 L94.5,518.8 L93.6,516.6 L92.8,514.4 L91.9,512.2 L91.0,510.0 L90.1,507.9 L89.3,505.8 L88.4,503.7 L87.5,501.6 L86.6,499.6 L85.7,497.5 L84.8,495.5 L83.9,493.4 L83.1,491.3 L82.2,489.2 L81.3,487.1 L80.5,484.9 L79.6,482.6 L78.8,480.3 L78.0,478.0 L77.2,475.5 L76.4,472.9 L75.6,470.2 L74.8,467.3 L74.0,464.3 L73.2,461.3 L72.4,458.2 L71.6,455.0 L70.8,451.9 L70.1,448.7 L69.3,445.7 L68.6,442.7 L67.9,439.7 L67.2,437.0 L66.5,434.3 L65.9,431.9 L65.3,429.6 L64.7,427.6 L64.2,425.9 L63.8,424.5 L63.4,423.2 L63.0,422.2 L62.7,421.2 L62.4,420.3 L62.0,419.4 L61.7,418.5 L61.4,417.6 L61.0,416.4 L60.6,415.1 L60.2,413.6 L59.6,411.8 L59.1,409.6 L58.4,407.1 L57.7,404.2 L56.9,400.9 L56.0,397.4 L55.1,393.6 L54.1,389.6 L53.1,385.4 L52.0,381.0 L51.0,376.6 L49.9,372.0 L48.8,367.5 L47.8,362.9 L46.7,358.4 L45.7,354.0 L44.6,349.7 L43.7,345.6 L42.7,341.6 L41.8,337.8 L40.8,334.1 L39.9,330.4 L39.0,326.7 L38.0,323.1 L37.1,319.5 L36.2,316.0 L35.3,312.5 L34.4,309.0 L33.5,305.5 L32.7,302.0 L31.9,298.6 L31.1,295.1 L30.3,291.7 L29.6,288.2 L28.9,284.7 L28.2,281.2 L27.6,277.7 L27.0,274.1 L26.4,270.6 L25.9,267.0 L25.4,263.4 L24.9,259.8 L24.4,256.3 L24.0,252.8 L23.5,249.3 L23.1,245.9 L22.7,242.5 L22.3,239.2 L21.9,236.0 L21.5,232.9 L21.1,229.9 L20.7,226.9 L20.3,224.0 L19.9,221.2 L19.6,218.4 L19.2,215.7 L18.9,213.0 L18.6,210.4 L18.3,207.8 L18.0,205.3 L17.7,202.9 L17.4,200.6 L17.1,198.3 L16.8,196.1 L16.6,193.9 L16.3,191.9 L16.0,189.9 L15.8,188.0 L15.6,186.3 L15.3,184.7 L15.1,183.1 L14.9,181.7 L14.8,180.3 L14.6,179.0 L14.4,177.8 L14.2,176.6 L14.1,175.4 L13.9,174.2 L13.7,173.0 L13.5,171.8 L13.4,170.6 L13.2,169.3 L13.0,167.9Z" fill="#766F54"/>
</g>
<rect x="0" y="0" width="15" height="576" fill="#766F54"/>
<path d="M0,60 L113,60 L134.200,81.300 L113,102.500 L0,102.500 Z" fill="#A53010"/>
<line x1="79.800" x2="995.800" y1="461.5" y2="461.5" stroke="#D9D9D9" stroke-opacity="0.6" stroke-width="1"/>
<line x1="79.800" x2="995.800" y1="412.5" y2="412.5" stroke="#D9D9D9" stroke-opacity="0.6" stroke-width="1"/>
<line x1="79.800" x2="995.800" y1="363.5" y2="363.5" stroke="#D9D9D9" stroke-opacity="0.6" stroke-width="1"/>
<line x1="79.800" x2="995.800" y1="313.5" y2="313.5" stroke="#D9D9D9" stroke-opacity="0.6" stroke-width="1"/>
<line x1="79.800" x2="995.800" y1="264.5" y2="264.5" stroke="#D9D9D9" stroke-opacity="0.6" stroke-width="1"/>
<line x1="79.800" x2="995.800" y1="215.5" y2="215.5" stroke="#D9D9D9" stroke-opacity="0.6" stroke-width="1"/>
<line x1="79.800" x2="995.800" y1="166.5" y2="166.5" stroke="#D9D9D9" stroke-opacity="0.6" stroke-width="1"/>
<line x1="79.800" x2="995.800" y1="116.5" y2="116.5" stroke="#D9D9D9" stroke-opacity="0.6" stroke-width="1"/>
<line x1="79.800" x2="995.800" y1="67.5" y2="67.5" stroke="#D9D9D9" stroke-opacity="0.6" stroke-width="1"/>
<rect x="117.50" y="193.58" width="34.1" height="267.92" fill="#A53010"/>
<rect x="160.70" y="169.94" width="34.1" height="291.56" fill="#DE7E18"/>
<rect x="270.18" y="125.62" width="34.1" height="335.88" fill="#A53010"/>
<rect x="313.38" y="115.76" width="34.1" height="345.74" fill="#DE7E18"/>
<rect x="422.86" y="338.00" width="34.1" height="123.50" fill="#A53010"/>
<rect x="466.06" y="291.59" width="34.1" height="169.91" fill="#DE7E18"/>
<rect x="575.54" y="418.60" width="34.1" height="42.90" fill="#A53010"/>
<rect x="618.74" y="391.07" width="34.1" height="70.43" fill="#DE7E18"/>
<rect x="728.22" y="136.45" width="34.1" height="325.05" fill="#A53010"/>
<rect x="771.42" y="120.20" width="34.1" height="341.30" fill="#DE7E18"/>
<rect x="880.90" y="121.18" width="34.1" height="340.32" fill="#A53010"/>
<rect x="924.10" y="113.80" width="34.1" height="347.70" fill="#DE7E18"/>
<rect x="279.100" y="539.400" width="10.2" height="10.2" fill="#A53010"/>
<rect x="542.200" y="539.400" width="10.2" height="10.2" fill="#DE7E18"/>
<mask id="ma" maskUnits="userSpaceOnUse" x="0" y="0" width="1024" height="576"><g fill="#fff" stroke="#000" stroke-width="0.18" stroke-linejoin="round">
<text x="71.200" y="465.30" font-size="9.7" textLength="21.0" lengthAdjust="spacingAndGlyphs" text-anchor="end">0,0%</text>
<text x="71.200" y="416.05" font-size="9.7" textLength="25.6" lengthAdjust="spacingAndGlyphs" text-anchor="end">10,0%</text>
<text x="71.200" y="366.80" font-size="9.7" textLength="25.6" lengthAdjust="spacingAndGlyphs" text-anchor="end">20,0%</text>
<text x="71.200" y="317.55" font-size="9.7" textLength="25.6" lengthAdjust="spacingAndGlyphs" text-anchor="end">30,0%</text>
<text x="71.200" y="268.30" font-size="9.7" textLength="25.6" lengthAdjust="spacingAndGlyphs" text-anchor="end">40,0%</text>
<text x="71.200" y="219.05" font-size="9.7" textLength="25.6" lengthAdjust="spacingAndGlyphs" text-anchor="end">50,0%</text>
<text x="71.200" y="169.80" font-size="9.7" textLength="25.6" lengthAdjust="spacingAndGlyphs" text-anchor="end">60,0%</text>
<text x="71.200" y="120.55" font-size="9.7" textLength="25.6" lengthAdjust="spacingAndGlyphs" text-anchor="end">70,0%</text>
<text x="71.200" y="71.30" font-size="9.7" textLength="25.6" lengthAdjust="spacingAndGlyphs" text-anchor="end">80,0%</text>
</g></mask>
<rect x="0" y="0" width="1024" height="576" fill="#6c6c6c" mask="url(#ma)"/>
<mask id="md" maskUnits="userSpaceOnUse" x="0" y="0" width="1024" height="576"><g fill="#fff" stroke="#000" stroke-width="0.34" stroke-linejoin="round">
<text x="112.20" y="185.38" font-size="18.5" textLength="44.7" lengthAdjust="spacingAndGlyphs">54,4%</text>
<text x="152.40" y="161.14" font-size="20.4" textLength="50.7" lengthAdjust="spacingAndGlyphs">59,2%</text>
<text x="264.68" y="117.42" font-size="18.5" textLength="45.1" lengthAdjust="spacingAndGlyphs">68,2%</text>
<text x="305.13" y="106.96" font-size="20.4" textLength="50.6" lengthAdjust="spacingAndGlyphs">70,2%</text>
<text x="417.31" y="329.80" font-size="18.5" textLength="45.2" lengthAdjust="spacingAndGlyphs">25,2%</text>
<text x="457.41" y="282.79" font-size="20.4" textLength="51.4" lengthAdjust="spacingAndGlyphs">34,5%</text>
<text x="574.34" y="410.40" font-size="18.5" textLength="36.5" lengthAdjust="spacingAndGlyphs">8,8%</text>
<text x="611.49" y="382.27" font-size="20.4" textLength="48.6" lengthAdjust="spacingAndGlyphs">14,3%</text>
<text x="723.07" y="128.25" font-size="18.5" textLength="44.4" lengthAdjust="spacingAndGlyphs">66,0%</text>
<text x="763.27" y="111.40" font-size="20.4" textLength="50.4" lengthAdjust="spacingAndGlyphs">69,3%</text>
<text x="875.30" y="112.98" font-size="18.5" textLength="45.3" lengthAdjust="spacingAndGlyphs">69,1%</text>
<text x="916.10" y="105.00" font-size="20.4" textLength="50.1" lengthAdjust="spacingAndGlyphs">70,6%</text>
</g></mask>
<rect x="0" y="0" width="1024" height="576" fill="#3b3b3b" mask="url(#md)"/>
<mask id="mt" maskUnits="userSpaceOnUse" x="0" y="0" width="1024" height="576"><g fill="#fff" stroke="#000" stroke-width="0.36" stroke-linejoin="round">
<text x="248.8" y="48.6" font-size="22.4" textLength="47.7" lengthAdjust="spacingAndGlyphs">Rata</text>
<text x="303.9" y="48.6" font-size="22.4" textLength="107.5" lengthAdjust="spacingAndGlyphs">participării</text>
<text x="418.7" y="48.6" font-size="22.4" textLength="17.0" lengthAdjust="spacingAndGlyphs">la</text>
<text x="443.0" y="48.6" font-size="22.4" textLength="41.7" lengthAdjust="spacingAndGlyphs">Vot,</text>
<text x="491.4" y="48.6" font-size="22.4" textLength="15.8" lengthAdjust="spacingAndGlyphs">în</text>
<text x="514.0" y="48.6" font-size="22.4" textLength="132.0" lengthAdjust="spacingAndGlyphs">dependență</text>
<text x="654.2" y="48.6" font-size="22.4" textLength="26.4" lengthAdjust="spacingAndGlyphs">de</text>
<text x="688.5" y="48.6" font-size="22.4" textLength="46.9" lengthAdjust="spacingAndGlyphs">locul</text>
<text x="743.3" y="48.6" font-size="22.4" textLength="53.6" lengthAdjust="spacingAndGlyphs">aflării</text>
<text x="89.9" y="492.7" font-size="20.0" textLength="60.7" lengthAdjust="spacingAndGlyphs">TOTAL,</text>
<text x="157.3" y="492.7" font-size="20.0" textLength="65.1" lengthAdjust="spacingAndGlyphs">inclusiv</text>
<text x="85.2" y="516.1" font-size="20.0" textLength="66.3" lengthAdjust="spacingAndGlyphs">Stânga</text>
<text x="159.4" y="516.1" font-size="20.0" textLength="66.8" lengthAdjust="spacingAndGlyphs">Nistrului</text>
<text x="278.9" y="493.3" font-size="20.0" textLength="15.2" lengthAdjust="spacingAndGlyphs">În</text>
<text x="300.0" y="493.3" font-size="20.0" textLength="38.1" lengthAdjust="spacingAndGlyphs">țară</text>
<text x="409.0" y="492.9" font-size="20.0" textLength="15.6" lengthAdjust="spacingAndGlyphs">În</text>
<text x="431.0" y="492.9" font-size="20.0" textLength="82.1" lengthAdjust="spacingAndGlyphs">Diasporă</text>
<text x="569.3" y="492.7" font-size="20.0" textLength="15.5" lengthAdjust="spacingAndGlyphs">În</text>
<text x="592.2" y="492.7" font-size="20.0" textLength="65.3" lengthAdjust="spacingAndGlyphs">Stânga</text>
<text x="574.0" y="516.1" font-size="20.0" textLength="81.2" lengthAdjust="spacingAndGlyphs">Niastrului</text>
<text x="701.5" y="493.3" font-size="20.0" textLength="45.4" lengthAdjust="spacingAndGlyphs">mun.</text>
<text x="754.2" y="493.3" font-size="20.0" textLength="77.5" lengthAdjust="spacingAndGlyphs">Chișinău</text>
<text x="852.0" y="493.4" font-size="20.0" textLength="39.3" lengthAdjust="spacingAndGlyphs">Țară</text>
<text x="898.9" y="493.4" font-size="20.0" textLength="35.7" lengthAdjust="spacingAndGlyphs">fără</text>
<text x="941.9" y="493.4" font-size="20.0" textLength="44.8" lengthAdjust="spacingAndGlyphs">mun.</text>
<text x="880.7" y="518.0" font-size="20.0" textLength="78.1" lengthAdjust="spacingAndGlyphs">Chișinău</text>
<text x="295.4" y="551.7" font-size="20.1" textLength="116.3" lengthAdjust="spacingAndGlyphs">Prezidențiale</text>
<text x="419.3" y="551.7" font-size="20.1" textLength="85.6" lengthAdjust="spacingAndGlyphs">2025/Tur-I</text>
<text x="558.4" y="551.7" font-size="20.1" textLength="116.3" lengthAdjust="spacingAndGlyphs">Prezidențiale</text>
<text x="682.4" y="551.7" font-size="20.1" textLength="90.1" lengthAdjust="spacingAndGlyphs">2025/Tur-II</text>
</g></mask>
<rect x="0" y="0" width="1024" height="576" fill="#525252" mask="url(#mt)"/>
</svg></body></html>
